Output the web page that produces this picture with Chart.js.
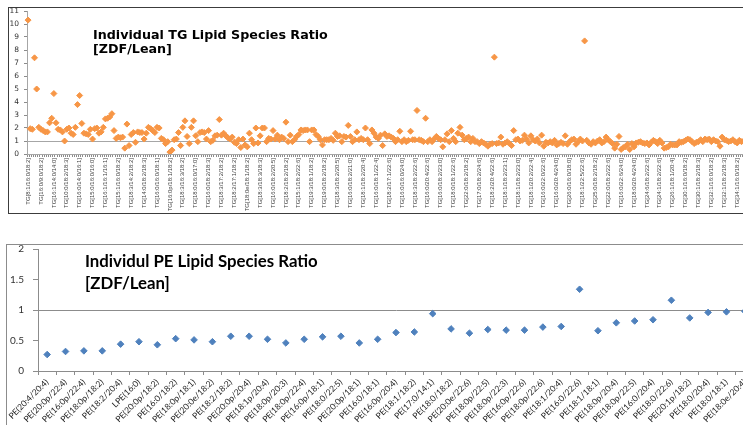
<!DOCTYPE html>
<html>
<head>
<meta charset="utf-8">
<title>Lipid Species Ratio</title>
<script src="https://cdn.jsdelivr.net/npm/chart.js@4.4.1/dist/chart.umd.min.js"></script>
<style>
  html, body { margin: 0; padding: 0; background: #fff; overflow: hidden; width: 743px; height: 425px; }
  .frame { position: absolute; box-sizing: border-box; }
  #tgFrame { left: 8px; top: 7px; width: 780px; height: 207px; border: 1px solid #3c3c3c; }
  #peFrame { left: 6px; top: 244px; width: 780px; height: 220px; border: 1px solid #8c8c8c; }
  canvas { position: absolute; left: 0; }
  #tgChart { top: 0; }
  #peChart { top: 230px; }
</style>
</head>
<body>
<div class="frame" id="tgFrame"></div>
<div class="frame" id="peFrame"></div>
<canvas id="tgChart" width="760" height="215"></canvas>
<canvas id="peChart" width="765" height="195"></canvas>
<script>
// ---- data: TG species (only every 6th category carries a visible label) ----
const TG_LABEL_STEP = 6;
const tgLabels = [
  'TG[8:1/16:0/18:2]', 'TG[16:0/9:0/18:2]', 'TG[16:1/14:0/14:0]', 'TG[10:0/18:2/18:3]',
  'TG[16:0/14:0/16:1]', 'TG[15:0/16:0/16:0]', 'TG[16:1/16:1/16:1]', 'TG[15:1/16:0/18:2]',
  'TG[18:3/14:2/18:2]', 'TG[14:0/18:2/18:3]', 'TG[16:0/16:0/18:1]', 'TG[16:0p/18:1/18:2]',
  'TG[18:3/16:3/18:2]', 'TG[18:0/16:0/17:0]', 'TG[16:0/18:2/18:3]', 'TG[18:3/17:2/18:2]',
  'TG[18:2/17:1/18:2]', 'TG[18:0e/18:1/18:2]', 'TG[18:3/18:3/18:3]', 'TG[16:0/18:2/20:5]',
  'TG[18:2/18:2/18:2]', 'TG[15:1/18:2/22:6]', 'TG[19:3/18:1/18:2]', 'TG[19:0/18:2/18:2]',
  'TG[18:3/18:2/20:5]', 'TG[16:0/18:2/21:0]', 'TG[18:1/18:2/20:4]', 'TG[16:0/18:1/22:4]',
  'TG[18:2/17:1/22:6]', 'TG[16:0/16:0/24:0]', 'TG[18:3/18:2/22:6]', 'TG[16:0/20:4/22:6]',
  'TG[16:0/18:2/23:0]', 'TG[18:0/18:1/22:6]', 'TG[22:0/18:2/18:2]', 'TG[17:0/18:2/24:6]',
  'TG[18:2/20:4/22:6]', 'TG[18:1/18:2/23:1]', 'TG[18:1/18:2/23:0]', 'TG[18:1/20:2/22:4]',
  'TG[16:0/22:0/22:6]', 'TG[16:0/20:4/24:0]', 'TG[26:0/16:0/18:0]', 'TG[18:1/22:5/22:6]',
  'TG[25:0/18:2/18:2]', 'TG[22:0/18:2/22:6]', 'TG[16:0/22:6/24:0]', 'TG[18:0/20:4/24:0]',
  'TG[24:6/18:2/22:6]', 'TG[24:1/18:2/22:6]', 'TG[26:1/18:1/20:4]', 'TG[30:1/16:0/18:2]',
  'TG[30:1/18:2/18:3]', 'TG[32:1/16:0/18:2]', 'TG[32:1/18:2/18:3]', 'TG[34:1/16:0/18:2]'
];
const tgRatio = [
  10.3, 1.95, 1.9, 7.4, 5.0, 2.05, 1.9, 1.8, 1.7, 1.7, 2.4, 2.75,
  4.65, 2.4, 1.9, 1.85, 1.7, 1.0, 1.9, 2.0, 1.6, 1.5, 2.05, 3.8,
  4.5, 2.35, 1.6, 1.55, 1.5, 1.9, 1.15, 1.95, 2.0, 1.6, 1.7, 2.05,
  2.7, 2.75, 2.85, 3.1, 1.8, 1.2, 1.3, 1.25, 1.3, 0.45, 2.3, 0.65,
  1.5, 1.65, 0.9, 1.7, 1.65, 1.65, 1.15, 1.6, 2.05, 1.95, 1.8, 1.65,
  2.05, 2.0, 1.2, 1.1, 0.8, 0.95, 0.15, 0.3, 1.1, 1.15, 1.65, 0.65,
  2.05, 2.55, 1.35, 0.8, 2.05, 2.55, 1.4, 0.95, 1.65, 1.7, 1.65, 1.15,
  1.8, 0.95, 1.05, 1.4, 1.45, 2.65, 1.45, 1.6, 1.4, 1.25, 1.15, 1.3,
  0.9, 0.8, 1.1, 0.5, 1.15, 0.7, 0.55, 1.6, 1.1, 0.8, 2.0, 0.85,
  1.4, 2.0, 2.0, 0.95, 1.2, 1.15, 1.8, 1.15, 1.45, 1.1, 1.3, 1.2,
  2.45, 0.95, 1.45, 0.95, 1.1, 1.35, 1.5, 1.85, 1.8, 1.85, 1.85, 0.95,
  1.85, 1.85, 1.5, 1.35, 1.1, 0.7, 1.1, 1.1, 1.1, 1.2, 1.05, 1.6,
  1.35, 1.4, 0.95, 1.35, 1.3, 2.2, 1.35, 0.95, 1.1, 1.7, 1.1, 1.2,
  1.1, 2.0, 1.1, 0.8, 1.85, 1.6, 1.3, 1.2, 1.45, 0.65, 1.55, 1.35,
  1.4, 1.3, 1.2, 0.95, 1.1, 1.75, 0.95, 1.1, 0.95, 1.05, 1.75, 1.1,
  1.1, 3.35, 1.1, 1.05, 0.95, 2.75, 0.95, 1.1, 0.95, 1.15, 1.35, 1.2,
  1.1, 0.55, 1.1, 1.55, 0.95, 1.8, 1.2, 0.95, 1.6, 2.05, 1.45, 1.1,
  1.2, 1.3, 0.95, 1.2, 0.95, 0.95, 0.8, 0.95, 0.85, 0.75, 0.6, 0.75,
  0.8, 7.45, 0.8, 0.85, 1.3, 0.75, 0.85, 0.95, 0.8, 0.65, 1.8, 1.1,
  1.15, 1.0, 1.05, 1.45, 1.15, 0.85, 1.4, 1.1, 1.0, 1.15, 0.85, 1.45,
  0.6, 0.9, 0.85, 0.95, 0.85, 1.05, 0.7, 0.8, 0.9, 0.8, 1.4, 0.75,
  0.95, 1.1, 1.15, 0.75, 0.95, 1.15, 1.0, 8.7, 1.05, 0.85, 0.75, 0.95,
  0.85, 1.0, 1.1, 0.85, 0.95, 1.3, 1.1, 0.95, 0.8, 0.45, 0.75, 1.35,
  0.35, 0.5, 0.55, 0.75, 0.35, 0.8, 0.55, 0.85, 0.9, 0.95, 0.85, 0.8,
  0.85, 0.7, 0.9, 1.05, 0.95, 0.8, 1.05, 0.85, 0.45, 0.5, 0.55, 0.75,
  0.7, 0.7, 0.7, 0.95, 0.9, 0.95, 1.05, 1.15, 1.1, 0.95, 0.8, 0.9,
  0.95, 1.1, 0.95, 1.15, 1.1, 1.15, 0.95, 1.1, 1.0, 0.95, 0.6, 1.3,
  1.1, 1.05, 0.95, 1.0, 1.1, 0.95, 0.85, 1.05, 0.95, 1.0, 0.95, 1.05
];

// ---- data: PE species ----
const peLabels = [
  'PE(20:4/20:4)', 'PE(20:0p/22:4)', 'PE(16:0p/22:4)', 'PE(18:0p/18:2)', 'PE(18:2/20:4)',
  'LPE(16:0)', 'PE(20:0p/18:2)', 'PE(16:0/18:2)', 'PE(18:0p/18:1)', 'PE(20:0e/18:2)',
  'PE(18:2/18:2)', 'PE(20:0p/20:4)', 'PE(18:1p/20:4)', 'PE(18:0p/20:3)', 'PE(18:0p/22:4)',
  'PE(16:0p/18:1)', 'PE(18:0/22:5)', 'PE(20:0p/18:1)', 'PE(16:0/18:1)', 'PE(16:0p/20:4)',
  'PE(18:1/18:2)', 'PE(17:0/14:1)', 'PE(18:0/18:2)', 'PE(20:0e/22:6)', 'PE(18:0p/22:5)',
  'PE(18:0p/22:3)', 'PE(16:0p/22:6)', 'PE(18:0p/22:6)', 'PE(18:1/20:4)', 'PE(16:0/22:6)',
  'PE(18:1/18:1)', 'PE(18:0p/20:4)', 'PE(18:0p/22:5)', 'PE(16:0/20:4)', 'PE(18:0/22:6)',
  'PE(20:1p/18:2)', 'PE(18:0/20:4)', 'PE(18:0/18:1)', 'PE(18:0e/20:4)'
];
const peRatio = [
  0.27, 0.32, 0.33, 0.33, 0.44, 0.48, 0.43, 0.53, 0.51, 0.48,
  0.57, 0.57, 0.52, 0.46, 0.52, 0.56, 0.57, 0.46, 0.52, 0.63,
  0.64, 0.94, 0.69, 0.62, 0.68, 0.67, 0.67, 0.72, 0.73, 1.34,
  0.66, 0.79, 0.82, 0.84, 1.16, 0.87, 0.96, 0.97, 0.98
];

const TG_COLOR = '#F79646';
const PE_COLOR = '#4F81BD';

// title drawn inside the plot box, like the original sheet
const boxTitle = {
  id: 'boxTitle',
  afterDraw(chart, args, opts) {
    const ctx = chart.ctx;
    ctx.save();
    ctx.font = opts.font;
    ctx.fillStyle = '#000';
    ctx.textBaseline = 'alphabetic';
    opts.lines.forEach((line, k) => ctx.fillText(line, opts.x, opts.y + k * opts.lineHeight));
    ctx.restore();
  }
};

// fixed axis sizes so both plot areas sit where the original ones are
function fixAxis(size) {
  return (scale) => {
    if (scale.isHorizontal()) {
      scale.height = size;
      scale.paddingLeft = 0;
      scale.paddingRight = 0;
    } else {
      scale.width = size;
    }
  };
}

function onlyOne(color) {
  return (ctx) => (ctx.tick && ctx.tick.value === 1 ? color : 'rgba(0,0,0,0)');
}

// ---- TG chart ----
const tgCategories = tgRatio.map((v, i) => (i % TG_LABEL_STEP === 0 ? (tgLabels[i / TG_LABEL_STEP] || '') : ''));

new Chart(document.getElementById('tgChart'), {
  type: 'line',
  data: {
    labels: tgCategories,
    datasets: [{
      data: tgRatio,
      showLine: false,
      pointStyle: 'rectRot',
      pointRadius: 3,
      pointBorderWidth: 1,
      pointBackgroundColor: TG_COLOR,
      pointBorderColor: TG_COLOR
    }]
  },
  options: {
    responsive: false,
    animation: false,
    layout: { padding: { top: 11, right: 11, left: 0, bottom: 0 } },
    plugins: {
      legend: { display: false },
      tooltip: { enabled: false },
      boxTitle: {
        lines: ['Individual TG Lipid Species Ratio', '[ZDF/Lean]'],
        x: 93, y: 39, lineHeight: 14,
        font: 'bold 12.7px "DejaVu Sans"'
      }
    },
    scales: {
      x: {
        offset: true,
        afterFit: fixAxis(61),
        border: { color: '#a6a6a6' },
        grid: { drawOnChartArea: false, offset: true, tickLength: 3, tickColor: '#8c8c8c' },
        ticks: {
          autoSkip: false, minRotation: 90, maxRotation: 90, padding: 1,
          color: '#404040', font: { family: '"Liberation Sans"', size: 6 }
        }
      },
      y: {
        min: 0, max: 11,
        afterFit: fixAxis(27),
        border: { color: '#a6a6a6' },
        grid: { color: onlyOne('#a6a6a6'), tickLength: 3, tickColor: '#8c8c8c' },
        ticks: { stepSize: 1, padding: 5, color: '#333', font: { family: '"DejaVu Sans"', size: 7.5 } }
      }
    }
  },
  plugins: [boxTitle]
});

// ---- PE chart ----
new Chart(document.getElementById('peChart'), {
  type: 'line',
  data: {
    labels: peLabels,
    datasets: [{
      data: peRatio,
      showLine: false,
      pointStyle: 'rectRot',
      pointRadius: 3.3,
      pointBorderWidth: 1,
      pointBackgroundColor: PE_COLOR,
      pointBorderColor: PE_COLOR
    }]
  },
  options: {
    responsive: false,
    animation: false,
    layout: { padding: { top: 19, right: 11, left: 0, bottom: 0 } },
    plugins: {
      legend: { display: false },
      tooltip: { enabled: false },
      boxTitle: {
        lines: ['Individul PE Lipid Species Ratio', '[ZDF/Lean]'],
        x: 85, y: 37, lineHeight: 22,
        font: 'bold 16.8px Lato'
      }
    },
    scales: {
      x: {
        offset: true,
        afterFit: fixAxis(54),
        border: { color: '#8c8c8c' },
        grid: { drawOnChartArea: false, offset: true, tickLength: 4, tickColor: '#8c8c8c' },
        ticks: {
          autoSkip: false, minRotation: 45, maxRotation: 45, padding: 2,
          color: '#222', font: { family: 'Lato', size: 8.5 }
        }
      },
      y: {
        min: 0, max: 2,
        afterFit: fixAxis(38),
        border: { color: '#8c8c8c' },
        grid: { color: onlyOne('#8c8c8c'), tickLength: 5, tickColor: '#8c8c8c' },
        ticks: {
          stepSize: 0.5, padding: 9, color: '#333', font: { family: 'Lato', size: 10 },
          callback: (value) => String(value)
        }
      }
    }
  },
  plugins: [boxTitle]
});
</script>
</body>
</html>
